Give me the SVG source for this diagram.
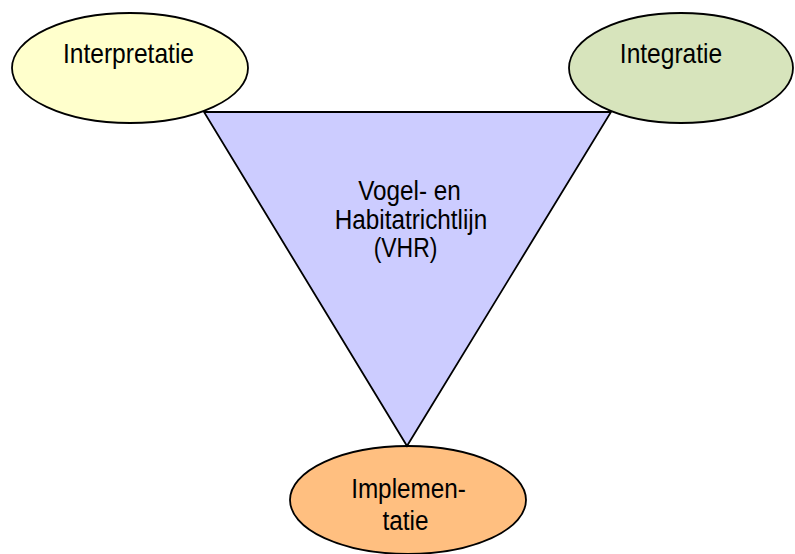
<svg xmlns="http://www.w3.org/2000/svg" width="795" height="554" viewBox="0 0 795 554">
  <style>
    .shape { stroke: #000000; stroke-width: 1.8; }
    .lbl { font-family: "Liberation Sans", Arial, sans-serif; font-size: 27px; fill: #000000; text-anchor: middle; }
  </style>
  <rect x="0" y="0" width="795" height="554" fill="#ffffff"/>
  <g id="interpretatie">
    <ellipse class="shape" cx="130" cy="68" rx="118" ry="55" fill="#FFFFCC"/>
    <text class="lbl" transform="translate(128.5,63) scale(0.91,1)">Interpretatie</text>
  </g>
  <g id="integratie">
    <ellipse class="shape" cx="681" cy="68" rx="112" ry="55" fill="#D7E4BC"/>
    <text class="lbl" transform="translate(671,63) scale(0.91,1)">Integratie</text>
  </g>
  <g id="implementatie">
    <ellipse class="shape" cx="408" cy="500" rx="118" ry="54" fill="#FFBF80"/>
    <text class="lbl" transform="translate(408.5,498) scale(0.9,1)">Implemen-</text>
    <text class="lbl" transform="translate(405.5,530) scale(0.9,1)">tatie</text>
  </g>
  <g id="vhr">
    <polygon class="shape" points="204,112 611,112 407,446" fill="#CCCCFF"/>
    <text class="lbl" transform="translate(409.5,200) scale(0.9,1)">Vogel- en</text>
    <text class="lbl" transform="translate(411,229) scale(0.9,1)">Habitatrichtlijn</text>
    <text class="lbl" transform="translate(405.5,257) scale(0.85,1)">(VHR)</text>
  </g>
</svg>
